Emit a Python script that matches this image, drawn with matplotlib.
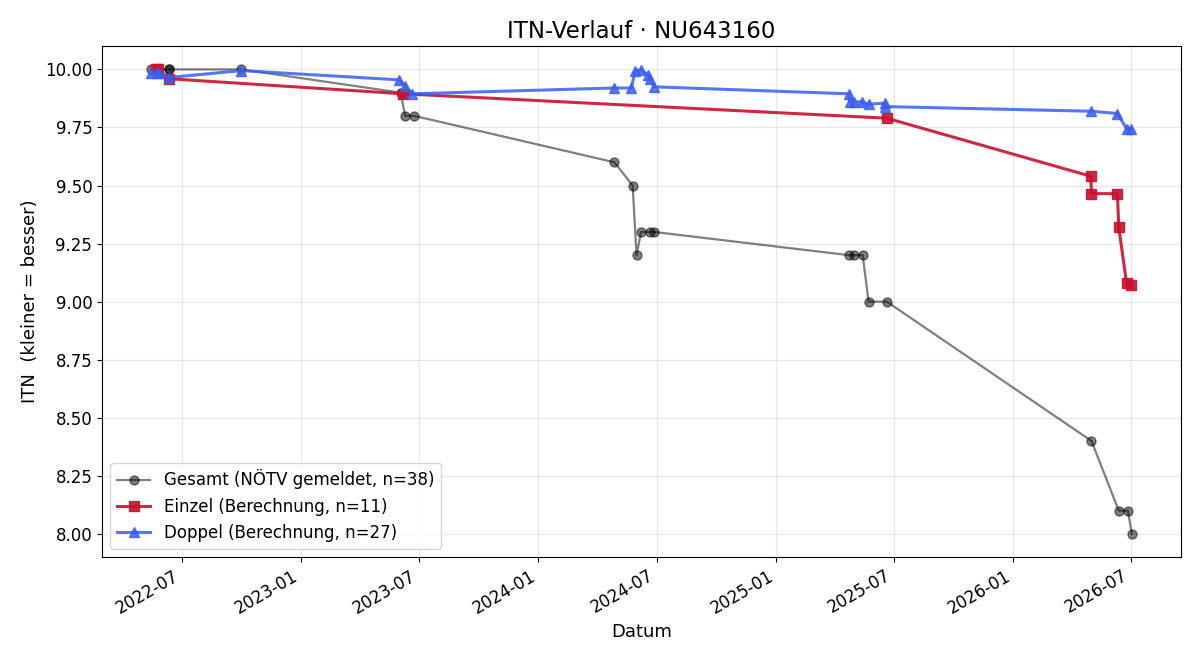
import matplotlib
matplotlib.use("Agg")
import matplotlib.pyplot as plt
import matplotlib.dates as mdates
from matplotlib.ticker import FormatStrFormatter
import pandas as pd

# Gesamt (NÖTV gemeldet)
gesamt_dates = ["2022-05-15", "2022-06-11", "2022-06-11", "2022-10-01", "2023-06-03",
                "2023-06-10", "2023-06-24", "2024-04-27", "2024-05-25", "2024-05-31",
                "2024-06-07", "2024-06-20", "2024-06-27", "2025-04-23", "2025-04-30",
                "2025-05-14", "2025-05-23", "2025-06-20", "2026-05-01", "2026-06-12",
                "2026-06-26", "2026-07-02"]
gesamt_itn = [10.0, 10.0, 10.0, 10.0, 9.9,
              9.8, 9.8, 9.6, 9.5, 9.2,
              9.3, 9.3, 9.3, 9.2, 9.2,
              9.2, 9.0, 9.0, 8.4, 8.1,
              8.1, 8.0]

# Einzel (Berechnung)
einzel_dates = ["2022-05-22", "2022-05-26", "2022-06-11", "2023-06-07", "2025-06-20",
                "2026-04-30", "2026-05-01", "2026-06-10", "2026-06-12", "2026-06-24",
                "2026-07-01"]
einzel_itn = [10.0, 10.0, 9.96, 9.895, 9.79,
              9.54, 9.465, 9.465, 9.32, 9.08,
              9.07]

# Doppel (Berechnung)
doppel_dates = ["2022-05-15", "2022-05-24", "2022-05-28", "2022-06-11", "2022-10-01",
                "2023-06-01", "2023-06-09", "2023-06-21", "2024-04-27", "2024-05-23",
                "2024-05-29", "2024-06-07", "2024-06-18", "2024-06-21", "2024-06-27",
                "2025-04-23", "2025-04-24", "2025-04-30", "2025-05-13", "2025-05-23",
                "2025-06-17", "2025-06-18", "2026-04-30", "2026-06-10", "2026-06-24",
                "2026-07-01"]
doppel_itn = [9.985, 9.985, 9.985, 9.965, 9.995,
              9.955, 9.93, 9.895, 9.92, 9.92,
              9.995, 9.998, 9.975, 9.96, 9.925,
              9.895, 9.86, 9.86, 9.86, 9.85,
              9.855, 9.84, 9.82, 9.81, 9.745,
              9.745]

fig, ax = plt.subplots(figsize=(12, 6.6), dpi=100)
fig.subplots_adjust(left=0.085, right=0.984, top=0.93, bottom=0.156)

ax.plot(pd.to_datetime(gesamt_dates), gesamt_itn, color="black", alpha=0.5,
        marker="o", markersize=6.5, linewidth=1.6, label="Gesamt (NÖTV gemeldet, n=38)")
ax.plot(pd.to_datetime(einzel_dates), einzel_itn, color="#c8102e", alpha=0.9,
        marker="s", markersize=7.5, linewidth=2.2, label="Einzel (Berechnung, n=11)")
ax.plot(pd.to_datetime(doppel_dates), doppel_itn, color="#3a5ef0", alpha=0.85,
        marker="^", markersize=7.5, linewidth=2.2, label="Doppel (Berechnung, n=27)")

ax.set_title("ITN-Verlauf · NU643160", fontsize=16.5)
ax.set_xlabel("Datum", fontsize=13)
ax.set_ylabel("ITN  (kleiner = besser)", fontsize=13)
ax.xaxis.set_major_locator(mdates.MonthLocator(bymonth=[1, 7]))
ax.xaxis.set_major_formatter(mdates.DateFormatter("%Y-%m"))
ax.yaxis.set_major_formatter(FormatStrFormatter("%.2f"))
ax.tick_params(labelsize=12)
ax.grid(True, alpha=0.3)
for lbl in ax.get_xticklabels():
    lbl.set_rotation(30)
    lbl.set_ha("right")
ax.legend(loc="lower left", fontsize=12)

fig.savefig("out.png")
